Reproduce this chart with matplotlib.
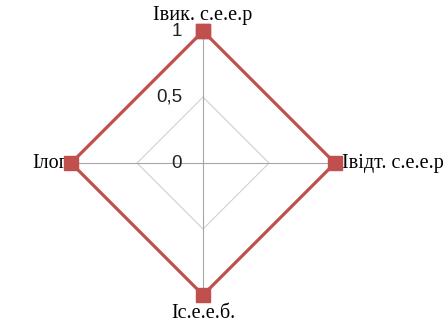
import numpy as np
import matplotlib
matplotlib.use("Agg")
import matplotlib.pyplot as plt

# data
categories = ["Івик. с.е.е.р", "Івідт. с.е.е.р", "Іс.е.е.б.", "Ілог."]
values = [1, 1, 1, 1]
rticks = [0, 0.5, 1]
rtick_labels = ["0", "0,5", "1"]

angles = np.linspace(0, 2 * np.pi, len(categories), endpoint=False)

fig = plt.figure(figsize=(4.44, 3.21), dpi=100)
ax = fig.add_axes([0.16, 0.081, 0.5946, 0.822], projection="polar")
ax.set_theta_offset(np.pi / 2)
ax.set_theta_direction(-1)
ax.set_ylim(0, 1)
ax.grid(False)
ax.spines["polar"].set_visible(False)
ax.set_xticks([])
ax.set_yticks([])
ax.patch.set_alpha(0)

# polygon grid
for r in rticks[1:-1]:
    ax.plot(np.append(angles, angles[0]), [r] * (len(angles) + 1),
            color="#d0d0d0", lw=0.8, zorder=1)
for a in angles:
    ax.plot([a, a], [0, 1], color="#a6a6a6", lw=0.8, zorder=1)

# series
ax.plot(np.append(angles, angles[0]), values + values[:1],
        color="#c0504d", lw=2.3, marker="s", markersize=10,
        zorder=3, clip_on=False)

# radial tick labels
for r, lab in zip(rticks, rtick_labels):
    ax.annotate(lab, xy=(0, r), xytext=(-15, 0), textcoords="offset points",
                ha="right", va="center", fontsize=13.5,
                family="Liberation Sans", color="#222222")

# category labels
offsets = [(0, 11), (5, 0), (0, -13), (-1, 0)]
aligns = [("center", "center"), ("left", "center"),
          ("center", "center"), ("right", "center")]
for a, cat, off, (ha, va) in zip(angles, categories, offsets, aligns):
    ax.annotate(cat, xy=(a, 1), xytext=off, textcoords="offset points",
                ha=ha, va=va, fontsize=14.5, family="Liberation Serif",
                annotation_clip=False, zorder=2)

fig.savefig("out.png", dpi=100)
